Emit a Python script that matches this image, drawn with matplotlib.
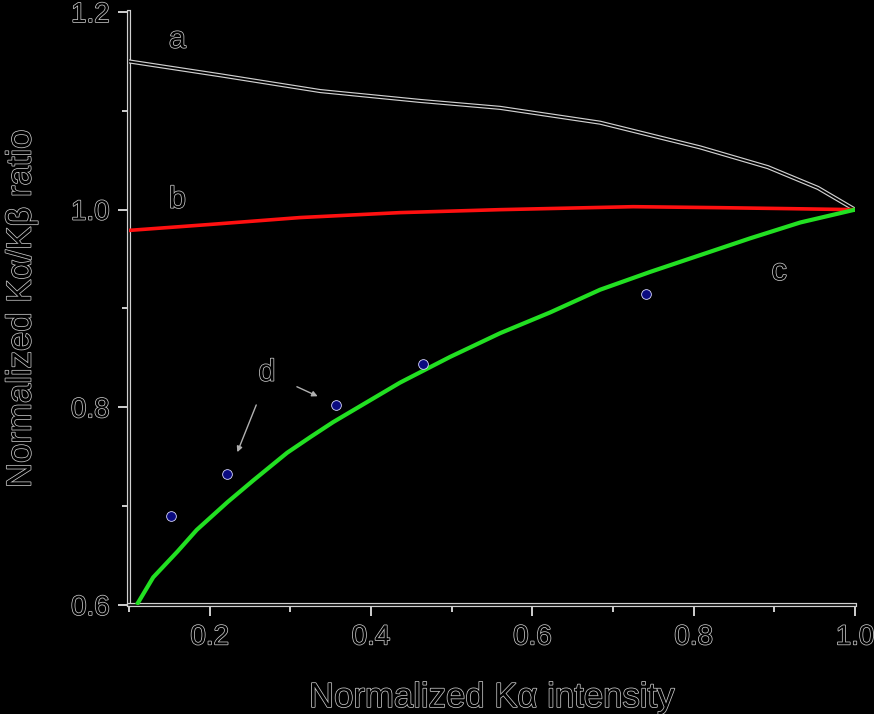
import matplotlib
matplotlib.use('Agg')
import matplotlib.pyplot as plt
import matplotlib.patheffects as pe
from matplotlib.ticker import MultipleLocator

plt.rcParams['font.family'] = ['Liberation Sans', 'DejaVu Sans']

# curve a (black)
a_x = [0.100, 0.213, 0.337, 0.461, 0.560, 0.684, 0.808, 0.892, 0.954, 1.0]
a_y = [1.150, 1.136, 1.120, 1.110, 1.103, 1.088, 1.063, 1.043, 1.022, 1.0]
# curve b (red)
b_x = [0.100, 0.200, 0.312, 0.436, 0.560, 0.725, 0.833, 0.920, 1.0]
b_y = [0.979, 0.985, 0.992, 0.997, 1.000, 1.003, 1.002, 1.001, 1.0]
# curve c (green)
c_x = [0.111, 0.130, 0.160, 0.184, 0.222, 0.254, 0.296, 0.325, 0.353, 0.436,
       0.498, 0.560, 0.622, 0.684, 0.746, 0.808, 0.870, 0.932, 1.0]
c_y = [0.602, 0.628, 0.654, 0.676, 0.704, 0.726, 0.754, 0.770, 0.785, 0.825,
       0.851, 0.875, 0.896, 0.919, 0.937, 0.954, 0.971, 0.987, 1.0]
# points d
d_x = [0.152, 0.222, 0.357, 0.464, 0.741]
d_y = [0.690, 0.733, 0.802, 0.844, 0.915]

outline = [pe.Stroke(linewidth=1.1, foreground='#c8c8c8'), pe.Normal()]
line_outline = [pe.Stroke(linewidth=3.0, foreground='#d0d0d0'), pe.Normal()]

fig = plt.figure(figsize=(8.74, 7.14), dpi=100, facecolor='black')
ax = fig.add_axes([0.1476, 0.1527, 0.8307, 0.8305])
ax.set_facecolor('black')

ax.plot(a_x, a_y, color='black', lw=1.3, path_effects=line_outline, zorder=3)
ax.plot(b_x, b_y, color='#ff1010', lw=2.6, zorder=3)
ax.plot(c_x, c_y, color='#22e022', lw=3.0, zorder=3)
ax.plot(d_x, d_y, 'o', color='#0a0a80', ms=7, mec='#d8d8ff', mew=0.6, zorder=4)

txt_kw = dict(color='black', fontsize=22, path_effects=outline)
ax.text(0.16, 1.172, 'a', ha='center', va='center', **txt_kw)
ax.text(0.16, 1.010, 'b', ha='center', va='center', **txt_kw)
ax.text(0.906, 0.937, 'c', ha='center', va='center', **txt_kw)
ax.text(0.271, 0.835, 'd', ha='center', va='center', **txt_kw)
arrow = dict(arrowstyle='-|>', color='#b0b0b0', lw=1, mutation_scale=8)
ax.annotate('', xy=(0.233, 0.752), xytext=(0.259, 0.805), arrowprops=arrow)
ax.annotate('', xy=(0.337, 0.810), xytext=(0.305, 0.822), arrowprops=arrow)

ax.set_xlim(0.1, 1.0)
ax.set_ylim(0.6, 1.2)
ax.xaxis.set_minor_locator(MultipleLocator(0.1))
ax.yaxis.set_major_locator(MultipleLocator(0.2))
ax.yaxis.set_minor_locator(MultipleLocator(0.1))
ax.set_xticks([0.2, 0.4, 0.6, 0.8, 1.0])
ax.set_xticklabels(['0.2', '0.4', '0.6', '0.8', '1.0'])

for side in ['top', 'right']:
    ax.spines[side].set_visible(False)
for side in ['left', 'bottom']:
    ax.spines[side].set_color('black')
    ax.spines[side].set_linewidth(1.2)
    ax.spines[side].set_path_effects(line_outline)

ax.tick_params(which='major', direction='out', length=8, width=1.4, color='#d0d0d0',
               labelsize=20, labelcolor='black', pad=6)
ax.tick_params(which='minor', direction='out', length=5, width=1.4, color='#d0d0d0')
for lab in ax.get_xticklabels() + ax.get_yticklabels():
    lab.set_path_effects(outline)

ax.set_xlabel('Normalized K\u03b1 intensity', fontsize=25, color='black',
              labelpad=22, path_effects=outline)
ax.set_ylabel('Normalized K\u03b1/K\u03b2 ratio', fontsize=25, color='black',
              labelpad=24, path_effects=outline)

fig.savefig('out.png', dpi=100, facecolor='black')
